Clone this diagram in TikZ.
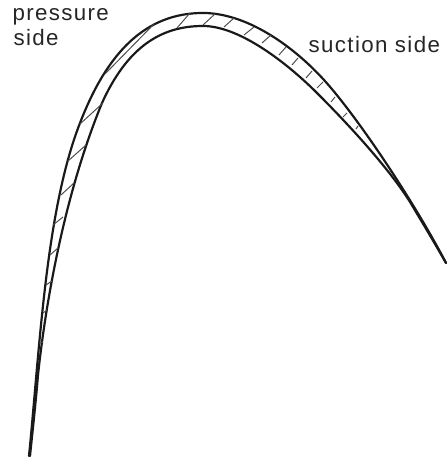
\documentclass[tikz,border=0pt]{standalone}
\usepackage{fontspec}
\setmainfont[LetterSpace=6]{Liberation Sans}
\tikzset{
  bladeline/.style={line width=0.62pt, line cap=round, line join=round, black!90},
  hatchline/.style={line width=0.28pt, black!70},
  sidelabel/.style={inner sep=0pt, anchor=base west, align=left, font=\fontsize{6.35pt}{7.2pt}\selectfont, black!85}
}
\begin{document}
\begin{tikzpicture}[x=1cm,y=1cm]
\useasboundingbox (0,0) rectangle (4.47,4.60);
\node[sidelabel] (pressure) at (0.12,4.39) {pressure};
\node[sidelabel] (side) at (0.13,4.14) {side};
\node[sidelabel] (suction) at (3.08,4.07) {suction side};
\draw[bladeline] (0.29,0.04) .. controls (0.40,1.15) and (0.46,2.50) .. (0.80,3.37)
  .. controls (1.07,4.07) and (1.45,4.47) .. (2.03,4.47)
  .. controls (2.50,4.47) and (3.00,4.09) .. (3.31,3.72)
  .. controls (3.68,3.28) and (4.19,2.49) .. (4.46,1.97);
\draw[bladeline] (0.30,0.04) .. controls (0.33,0.33) and (0.36,0.60) .. (0.38,0.85)
  .. controls (0.46,1.60) and (0.65,2.67) .. (1.02,3.57)
  .. controls (1.27,4.12) and (1.60,4.34) .. (2.03,4.34)
  .. controls (2.40,4.34) and (2.88,3.96) .. (3.17,3.67)
  .. controls (3.47,3.37) and (3.88,2.93) .. (4.10,2.58)
  .. controls (4.22,2.38) and (4.34,2.18) .. (4.46,1.97);
\draw[hatchline] (0.39,1.17) -- (0.43,1.18);
\draw[hatchline] (0.43,1.47) -- (0.47,1.50);
\draw[hatchline] (0.46,1.75) -- (0.52,1.79);
\draw[hatchline] (0.50,2.05) -- (0.58,2.12);
\draw[hatchline] (0.53,2.35) -- (0.63,2.43);
\draw[hatchline] (0.61,2.65) -- (0.74,2.77);
\draw[hatchline] (0.68,2.99) -- (0.86,3.15);
\draw[hatchline] (0.80,3.36) -- (1.03,3.57);
\draw[hatchline] (1.05,3.86) -- (1.54,4.36);
\draw[hatchline] (1.77,4.32) -- (1.90,4.47);
\draw[hatchline] (2.03,4.35) -- (2.15,4.46);
\draw[hatchline] (2.24,4.33) -- (2.34,4.42);
\draw[hatchline] (2.44,4.25) -- (2.54,4.33);
\draw[hatchline] (2.62,4.17) -- (2.71,4.25);
\draw[hatchline] (2.79,4.05) -- (2.86,4.13);
\draw[hatchline] (2.92,3.95) -- (2.98,4.02);
\draw[hatchline] (3.06,3.82) -- (3.12,3.89);
\draw[hatchline] (3.17,3.72) -- (3.23,3.78);
\draw[hatchline] (3.31,3.58) -- (3.35,3.63);
\draw[hatchline] (3.43,3.43) -- (3.47,3.47);
\draw[hatchline] (3.56,3.31) -- (3.58,3.34);
\end{tikzpicture}
\end{document}
